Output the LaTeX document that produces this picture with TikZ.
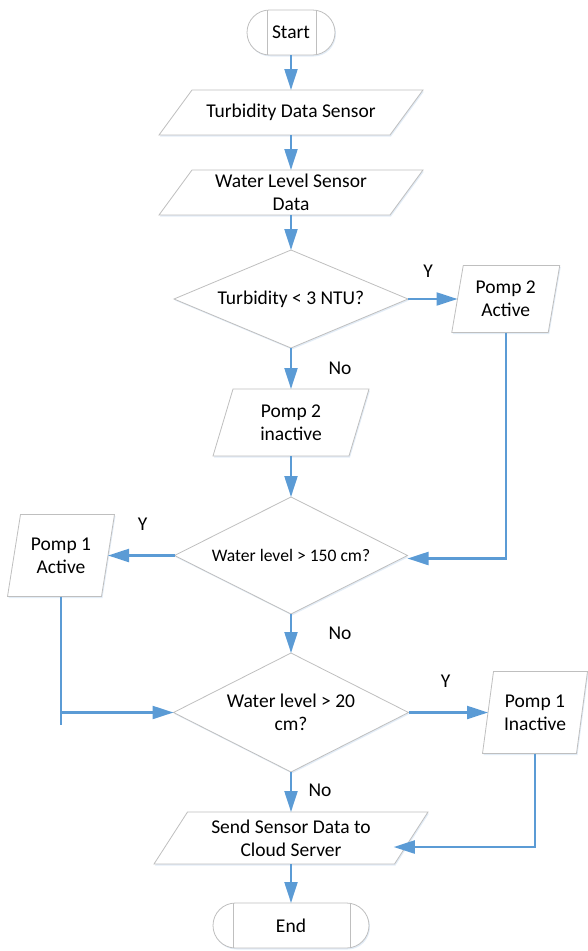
\documentclass[tikz,border=0pt]{standalone}
\usepackage{fontspec}
\setmainfont{Carlito}
\usetikzlibrary{positioning,shapes.geometric,shapes.misc,arrows.meta,shadows,backgrounds}

\definecolor{flowblue}{HTML}{5B9BD5}
\definecolor{boxgray}{HTML}{BFBFBF}
\definecolor{shadowblue}{HTML}{DCE8F5}

\tikzset{
  boxline/.style={draw=boxgray, fill=white, line width=0.8pt,
      drop shadow={shadow xshift=1pt, shadow yshift=-1.5pt, fill=shadowblue, opacity=0.8}},
  label text/.style={font=\fontsize{19.5}{23}\selectfont},
  box/.style={boxline, label text, inner sep=0pt, outer sep=0pt, align=center},
  terminal/.style={box, rounded rectangle, minimum height=45pt},
  io/.style={label text, rectangle, inner sep=0pt, outer sep=0pt, align=center},
  decision/.style={box, diamond, aspect=2},
  flow/.style={draw=flowblue, line width=2.2pt},
  flowarrow/.style={flow, -{Triangle[length=21pt, width=13pt]}},
  answer/.style={label text}
}

\begin{document}
\begin{tikzpicture}[x=1pt, y=-1pt]
  \useasboundingbox (0,0) rectangle (587,951);

  % Start and the two sensor readings
  \node(start)[terminal, minimum width=88pt] at (291,32.5) {Start};
  \node(turbsensor)[io, minimum width=231pt, minimum height=45pt,
      below=35pt of start] {Turbidity Data Sensor};
  \node(levelsensor)[io, minimum width=231pt, minimum height=45pt,
      below=35pt of turbsensor] {Water Level Sensor\\Data};

  % Turbidity check
  \node(turbcheck)[decision, minimum width=234pt, minimum height=98pt,
      below=35pt of levelsensor] {Turbidity < 3 NTU?};
  \node(pomp2on)[io, minimum width=96.5pt, minimum height=67pt,
      right=49.5pt of turbcheck] {Pomp 2\\Active};
  \node(pomp2off)[io, minimum width=136pt, minimum height=67pt,
      below=41pt of turbcheck] {Pomp 2\\inactive};

  % High water level check
  \node(highcheck)[decision, minimum width=233pt, minimum height=117pt,
      below=41pt of pomp2off, font=\fontsize{17.6}{21}\selectfont] {Water level > 150 cm?};
  \node(pomp1on)[io, minimum width=94pt, minimum height=82pt,
      left=66.5pt of highcheck] {Pomp 1\\Active};

  % Low water level check
  \node(lowcheck)[decision, minimum width=235pt, minimum height=119pt,
      below=39pt of highcheck] {Water level > 20\\cm?};
  \node(pomp1off)[io, minimum width=94pt, minimum height=82pt,
      right=79.5pt of lowcheck] {Pomp 1\\Inactive};

  % Upload and end
  \node(send)[io, minimum width=240.5pt, minimum height=52pt,
      below=40pt of lowcheck] {Send Sensor Data to\\Cloud Server};
  \node(stop)[terminal, minimum width=156pt, below=39pt of send] {End};

  % Slanted outlines of the data boxes (half slant in pt)
  \begin{pgfonlayer}{background}
    \foreach \n/\h in {turbsensor/16.5, levelsensor/16.5, pomp2on/5.75, pomp2off/10,
        pomp1on/6.5, pomp1off/5.5, send/16.75}{
      \draw[boxline] ([xshift=\h pt]\n.north west) -- ([xshift=\h pt]\n.north east)
          -- ([xshift=-\h pt]\n.south east) -- ([xshift=-\h pt]\n.south west) -- cycle;
    }
  \end{pgfonlayer}

  % Side bars of the terminals
  \foreach \t in {start,stop}{
    \draw[draw=boxgray, line width=0.8pt] ([xshift=20pt]\t.west |- \t.north) -- ([xshift=20pt]\t.west |- \t.south);
    \draw[draw=boxgray, line width=0.8pt] ([xshift=-19pt]\t.east |- \t.north) -- ([xshift=-19pt]\t.east |- \t.south);
  }

  % Main column
  \draw[flowarrow] (start.south) -- (turbsensor.north);
  \draw[flowarrow] (turbsensor.south) -- (levelsensor.north);
  \draw[flowarrow] (levelsensor.south) -- (turbcheck.north);
  \draw[flowarrow] (turbcheck.south) -- (pomp2off.north);
  \draw[flowarrow] (pomp2off.south) -- (highcheck.north);
  \draw[flowarrow] (highcheck.south) -- (lowcheck.north);
  \draw[flowarrow] (lowcheck.south) -- (send.north);
  \draw[flowarrow] (send.south) -- (stop.north);

  % Branches
  \draw[flowarrow] (turbcheck.east) -- (pomp2on.west);
  \draw[flowarrow] (pomp2on.south) |- ([yshift=-3pt]highcheck.east);
  \draw[flowarrow] (highcheck.west) -- (pomp1on.east);
  \draw[flow] (pomp1on.south) -- ([yshift=-12pt]pomp1on.south |- lowcheck.west);
  \draw[flowarrow] (pomp1on.south |- lowcheck.west) -- (lowcheck.west);
  \draw[flowarrow] (lowcheck.east) -- (pomp1off.west);
  \draw[flowarrow] (pomp1off.south) |- ([xshift=-17.5pt, yshift=-9pt]send.east);

  % Answers
  \node(yes1)[answer] at ([xshift=20pt, yshift=28pt]turbcheck.east) {Y};
  \node(no1)[answer] at ([xshift=49pt, yshift=-20pt]turbcheck.south) {No};
  \node(yes2)[answer] at ([xshift=-32pt, yshift=31pt]highcheck.west) {Y};
  \node(no2)[answer] at ([xshift=49pt, yshift=-19pt]highcheck.south) {No};
  \node(yes3)[answer] at ([xshift=37pt, yshift=31pt]lowcheck.east) {Y};
  \node(no3)[answer] at ([xshift=29pt, yshift=-18pt]lowcheck.south) {No};
\end{tikzpicture}
\end{document}
